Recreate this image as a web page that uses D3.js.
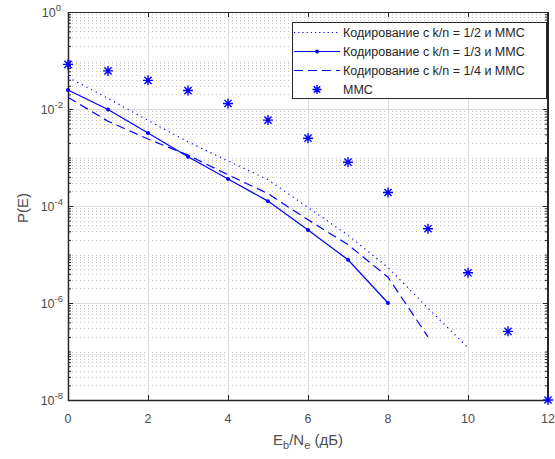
<!DOCTYPE html>
<html>
<head>
<meta charset="utf-8">
<script src="https://cdn.jsdelivr.net/npm/d3@7"></script>
<style>
  body { margin: 0; background: #fff; }
  svg { display: block; font-family: "Liberation Sans", Arial, Helvetica, sans-serif; }
</style>
</head>
<body>
<svg id="chart" width="555" height="459"></svg>
<script>
// ---- Data ----
const xCode12 = [0,1,2,3,4,5,6,7,8,9,10];
const pCode12 = [0.045,0.0166,0.0058,0.0021,8.5e-4,3.5e-4,9.3e-5,2.5e-5,5.4e-6,7.8e-7,1.2e-7];
const xCode13 = [0,1,2,3,4,5,6,7,8];
const pCode13 = [0.0247,0.0098,0.0032,0.00104,3.6e-4,1.26e-4,3.2e-5,7.8e-6,1.0e-6];
const xCode14 = [0,1,2,3,4,5,6,7,8,9];
const pCode14 = [0.0174,0.0056,0.0024,0.00112,4.4e-4,1.8e-4,5.2e-5,1.6e-5,3.4e-6,2.0e-7];
const xMMC = [0,1,2,3,4,5,6,7,8,9,10,11,12];
const pMMC = [0.083,0.061,0.039,0.024,0.013,0.0059,0.0025,8e-4,1.9e-4,3.4e-5,4.2e-6,2.6e-7,1e-8];
const xTicks = [0,2,4,6,8,10,12];
const yTickExps = [0,-2,-4,-6,-8];
const legendLabels = [
  "Кодирование с k/n = 1/2 и ММС",
  "Кодирование с k/n = 1/3 и ММС",
  "Кодирование с k/n = 1/4 и ММС",
  "ММС"
];

// ---- Layout ----
const L = 68, R = 548, T = 12, B = 400;
const svg = d3.select("#chart");
const x = d3.scaleLinear().domain([0,12]).range([L,R]);
const y = d3.scaleLog().domain([1e-8,1]).range([B,T]);
const axisCol = "#262626";
const blue = "#0000ff";

svg.append("rect").attr("x",L).attr("y",T).attr("width",R-L).attr("height",B-T).attr("fill","#fff");

// minor y grid (dotted)
const minorVals = [];
for (let e = -8; e < 0; e++) for (let m = 2; m <= 9; m++) minorVals.push(m*Math.pow(10,e));
for (let e = -7; e < 0; e += 2) minorVals.push(Math.pow(10,e));
svg.append("g").selectAll("line").data(minorVals).join("line")
  .attr("x1",L).attr("x2",R)
  .attr("y1",d=>Math.round(y(d))+0.5).attr("y2",d=>Math.round(y(d))+0.5)
  .attr("stroke","#c4c4c4").attr("stroke-width",1).attr("stroke-dasharray","1,3");

// major grid
svg.append("g").selectAll("line").data(yTickExps.slice(1,-1)).join("line")
  .attr("x1",L).attr("x2",R)
  .attr("y1",d=>Math.round(y(Math.pow(10,d)))+0.5).attr("y2",d=>Math.round(y(Math.pow(10,d)))+0.5)
  .attr("stroke","#dcdcdc").attr("stroke-width",1);
svg.append("g").selectAll("line").data(xTicks.slice(1,-1)).join("line")
  .attr("y1",T).attr("y2",B)
  .attr("x1",d=>Math.round(x(d))+0.5).attr("x2",d=>Math.round(x(d))+0.5)
  .attr("stroke","#dcdcdc").attr("stroke-width",1);

// axes (ticks inward)
svg.append("g").attr("transform",`translate(0,${B})`)
  .call(d3.axisBottom(x).tickValues(xTicks).tickSizeInner(-5).tickSizeOuter(0).tickFormat(""))
  .call(g=>g.selectAll("line,path").attr("stroke",axisCol));
svg.append("g").attr("transform",`translate(0,${T})`)
  .call(d3.axisTop(x).tickValues(xTicks).tickSizeInner(-5).tickSizeOuter(0).tickFormat(""))
  .call(g=>g.selectAll("line,path").attr("stroke",axisCol));
const yMajor = yTickExps.map(e=>Math.pow(10,e));
svg.append("g").attr("transform",`translate(${L},0)`)
  .call(d3.axisLeft(y).tickValues(yMajor).tickSizeInner(-5).tickSizeOuter(0).tickFormat(""))
  .call(g=>g.selectAll("line,path").attr("stroke",axisCol));
svg.append("g").attr("transform",`translate(${R},0)`)
  .call(d3.axisRight(y).tickValues(yMajor).tickSizeInner(-5).tickSizeOuter(0).tickFormat(""))
  .call(g=>g.selectAll("line,path").attr("stroke",axisCol));
svg.append("g").attr("transform",`translate(${L},0)`)
  .call(d3.axisLeft(y).tickValues(minorVals).tickSizeInner(-3).tickSizeOuter(0).tickFormat(""))
  .call(g=>{g.select("path").remove(); g.selectAll("line").attr("stroke",axisCol);});
svg.append("g").attr("transform",`translate(${R},0)`)
  .call(d3.axisRight(y).tickValues(minorVals).tickSizeInner(-3).tickSizeOuter(0).tickFormat(""))
  .call(g=>{g.select("path").remove(); g.selectAll("line").attr("stroke",axisCol);});

// box
svg.append("rect").attr("x",L+0.5).attr("y",T+0.5).attr("width",R-L-1).attr("height",B-T)
  .attr("fill","none").attr("stroke",axisCol).attr("stroke-width",1);
svg.append("line").attr("x1",L+0.5).attr("x2",L+0.5).attr("y1",T).attr("y2",B+1).attr("stroke",axisCol).attr("stroke-width",1.5);
svg.append("line").attr("x1",L).attr("x2",R).attr("y1",B+0.5).attr("y2",B+0.5).attr("stroke",axisCol).attr("stroke-width",1.5);

// tick labels
svg.append("g").selectAll("text").data(xTicks).join("text")
  .attr("x",d=>x(d)).attr("y",B+23).attr("text-anchor","middle")
  .attr("font-size",12.5).attr("fill","#4d4d4d").text(d=>d);
const yl = svg.append("g").selectAll("text").data(yTickExps).join("text")
  .attr("y",d=>y(Math.pow(10,d))+5).attr("text-anchor","end")
  .attr("font-size",12.5).attr("fill","#4d4d4d");
yl.each(function(d){
  const t = d3.select(this);
  t.append("tspan").text("10");
  t.append("tspan").attr("font-size",9.5).attr("dy",-6).text(d===0?"0":"-"+Math.abs(d));
});
yl.attr("x",d=> d===0 ? 61 : 63);

// axis labels
const xl = svg.append("text").attr("x",308).attr("y",445).attr("text-anchor","middle")
  .attr("font-size",15).attr("fill","#4d4d4d");
xl.append("tspan").text("E");
xl.append("tspan").attr("font-size",11).attr("dy",4).text("b");
xl.append("tspan").attr("dy",-4).text("/N");
xl.append("tspan").attr("font-size",11).attr("dy",4).text("e");
xl.append("tspan").attr("dy",-4).text(" (дБ)");
svg.append("text").attr("transform","translate(28,208) rotate(-90)").attr("text-anchor","middle")
  .attr("font-size",15).attr("fill","#4d4d4d").text("P(E)");

// lines
const line = d3.line().x(d=>x(d[0])).y(d=>y(d[1]));
const zip = (a,b)=>a.map((v,i)=>[v,b[i]]);
const d12 = zip(xCode12,pCode12), d13 = zip(xCode13,pCode13), d14 = zip(xCode14,pCode14), dM = zip(xMMC,pMMC);
svg.append("path").datum(d12).attr("d",line).attr("fill","none").attr("stroke",blue)
  .attr("stroke-width",1.2).attr("stroke-dasharray","1.2,4");
svg.append("path").datum(d14).attr("d",line).attr("fill","none").attr("stroke",blue)
  .attr("stroke-width",1.2).attr("stroke-dasharray","9,5");
svg.append("path").datum(d13).attr("d",line).attr("fill","none").attr("stroke",blue)
  .attr("stroke-width",1.2);
svg.append("g").selectAll("circle").data(d13).join("circle")
  .attr("cx",d=>x(d[0])).attr("cy",d=>y(d[1])).attr("r",2).attr("fill",blue);

// star markers
function star(g, cx, cy, s){
  const a = s, b = s*0.72;
  g.append("path").attr("d",
    `M${cx-a},${cy}L${cx+a},${cy}M${cx},${cy-a}L${cx},${cy+a}` +
    `M${cx-b},${cy-b}L${cx+b},${cy+b}M${cx-b},${cy+b}L${cx+b},${cy-b}`)
    .attr("stroke",blue).attr("stroke-width",1.4).attr("fill","none");
}
const sg = svg.append("g");
dM.forEach(d=>star(sg, x(d[0]), y(d[1]), 5));

// legend
const lg = svg.append("g");
lg.append("rect").attr("x",292.5).attr("y",22.5).attr("width",254).attr("height",76)
  .attr("fill","#fff").attr("stroke",axisCol).attr("stroke-width",1);
const rowsY = [32.5,51.5,70.5,89.5];
legendLabels.forEach((lab,i)=>{
  const yy = rowsY[i];
  if (i===0) lg.append("line").attr("x1",294).attr("x2",340).attr("y1",yy).attr("y2",yy)
      .attr("stroke",blue).attr("stroke-width",1.2).attr("stroke-dasharray","1.2,3");
  if (i===1) { lg.append("line").attr("x1",294).attr("x2",340).attr("y1",yy).attr("y2",yy)
      .attr("stroke",blue).attr("stroke-width",1.2);
    lg.append("circle").attr("cx",317).attr("cy",yy).attr("r",2).attr("fill",blue); }
  if (i===2) lg.append("line").attr("x1",294).attr("x2",340).attr("y1",yy).attr("y2",yy)
      .attr("stroke",blue).attr("stroke-width",1.2).attr("stroke-dasharray","9,5");
  if (i===3) star(lg, 317, yy, 4.5);
  lg.append("text").attr("x",343).attr("y",yy+4.5).attr("font-size",12.5).attr("fill","#262626").text(lab);
});
</script>
</body>
</html>
